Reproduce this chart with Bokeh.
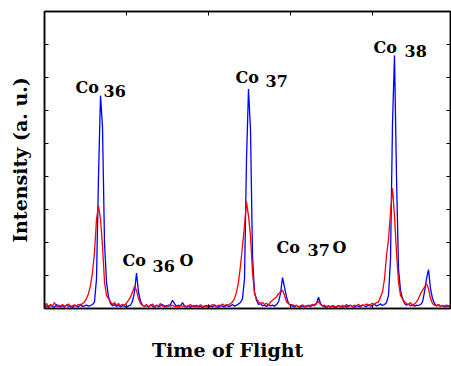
from bokeh.plotting import figure
from bokeh.models import Range1d, LinearAxis, FixedTicker
from bokeh.core.properties import value
from bokeh.embed import file_html
from bokeh.resources import INLINE

# Intensity (a.u.) per time-of-flight channel
blue = [
    0.05, 0.08, 0.03, 0.10, 0.06, 0.04, 0.12, 0.07, 0.05, 0.09,
    0.04, 0.11, 0.06, 0.08, 0.03, 0.10, 0.07, 0.05, 0.13, 0.06,
    0.08, 0.10, 0.07, 0.09, 0.12, 0.20, 0.90, 4.00, 6.45, 5.50,
    2.00, 0.80, 0.35, 0.15, 0.08, 0.12, 0.06, 0.10, 0.05, 0.09,
    0.07, 0.04, 0.08, 0.10, 0.22, 0.50, 1.07, 0.50, 0.22, 0.10,
    0.06, 0.09, 0.05, 0.11, 0.07, 0.04, 0.10, 0.06, 0.08, 0.12,
    0.05, 0.09, 0.07, 0.12, 0.25, 0.15, 0.06, 0.10, 0.08, 0.18,
    0.07, 0.05, 0.09, 0.04, 0.08, 0.06, 0.10, 0.05, 0.07, 0.03,
    0.06, 0.09, 0.04, 0.08, 0.05, 0.11, 0.06, 0.04, 0.09, 0.07,
    0.05, 0.10, 0.06, 0.08, 0.12, 0.07, 0.10, 0.14, 0.18, 0.30,
    0.90, 4.50, 6.65, 5.40, 1.60, 0.50, 0.25, 0.12, 0.15, 0.08,
    0.10, 0.06, 0.12, 0.08, 0.10, 0.07, 0.12, 0.20, 0.45, 0.94,
    0.65, 0.35, 0.15, 0.10, 0.07, 0.05, 0.09, 0.06, 0.04, 0.08,
    0.05, 0.07, 0.10, 0.06, 0.09, 0.12, 0.15, 0.34, 0.15, 0.08,
    0.06, 0.04, 0.08, 0.05, 0.07, 0.03, 0.06, 0.09, 0.05, 0.04,
    0.07, 0.05, 0.08, 0.10, 0.06, 0.04, 0.09, 0.07, 0.05, 0.10,
    0.08, 0.06, 0.11, 0.07, 0.09, 0.12, 0.08, 0.10, 0.14, 0.09,
    0.12, 0.18, 0.40, 1.50, 5.60, 7.67, 4.00, 1.20, 0.55, 0.30,
    0.15, 0.10, 0.13, 0.08, 0.11, 0.07, 0.10, 0.09, 0.12, 0.20,
    0.50, 0.90, 1.18, 0.60, 0.30, 0.15, 0.08, 0.11, 0.06, 0.09,
    0.05, 0.08, 0.06, 0.09,
]
red = [
    0.10, 0.15, 0.06, 0.12, 0.08, 0.18, 0.05, 0.10, 0.07, 0.12,
    0.06, 0.09, 0.14, 0.05, 0.08, 0.11, 0.07, 0.13, 0.09, 0.15,
    0.20, 0.30, 0.45, 0.70, 1.10, 1.70, 2.70, 3.12, 2.70, 1.90,
    0.80, 0.40, 0.30, 0.20, 0.12, 0.18, 0.10, 0.15, 0.08, 0.13,
    0.10, 0.16, 0.25, 0.35, 0.50, 0.67, 0.55, 0.30, 0.15, 0.10,
    0.07, 0.12, 0.05, 0.09, 0.14, 0.06, 0.10, 0.08, 0.15, 0.07,
    0.09, 0.05, 0.11, 0.07, 0.10, 0.06, 0.08, 0.04, 0.09, 0.06,
    0.10, 0.05, 0.08, 0.12, 0.06, 0.09, 0.05, 0.07, 0.11, 0.06,
    0.08, 0.05, 0.10, 0.07, 0.12, 0.08, 0.06, 0.10, 0.09, 0.14,
    0.08, 0.12, 0.10, 0.15, 0.20, 0.30, 0.50, 0.80, 1.30, 1.90,
    2.50, 3.24, 2.80, 2.20, 1.10, 0.45, 0.30, 0.20, 0.15, 0.18,
    0.12, 0.16, 0.10, 0.20, 0.25, 0.30, 0.35, 0.45, 0.50, 0.55,
    0.40, 0.20, 0.15, 0.10, 0.12, 0.07, 0.10, 0.05, 0.08, 0.11,
    0.06, 0.09, 0.07, 0.10, 0.12, 0.08, 0.15, 0.22, 0.12, 0.08,
    0.10, 0.06, 0.08, 0.05, 0.09, 0.07, 0.04, 0.08, 0.06, 0.10,
    0.05, 0.12, 0.07, 0.09, 0.06, 0.10, 0.08, 0.13, 0.07, 0.11,
    0.09, 0.14, 0.10, 0.12, 0.16, 0.13, 0.18, 0.20, 0.35, 0.50,
    0.90, 1.60, 2.10, 2.90, 3.64, 2.80, 1.70, 0.80, 0.40, 0.30,
    0.20, 0.15, 0.12, 0.18, 0.10, 0.14, 0.20, 0.30, 0.45, 0.55,
    0.65, 0.75, 0.60, 0.30, 0.15, 0.10, 0.08, 0.12, 0.06, 0.09,
    0.07, 0.10, 0.08, 0.06,
]
channel = list(range(len(blue)))

x_ticks = [41, 82, 123, 164]
y_ticks = [1, 2, 3, 4, 5, 6, 7, 8]

# peak annotations: text pieces and their anchor (channel, intensity)
ann_text = ["Co", "36", "Co", "37", "Co", "38",
            "Co", "36", "O", "Co", "37", "O"]
ann_x = [15.5, 29.5, 95.5, 110.5, 164.5, 180.0,
         39.0, 54.0, 67.5, 116.0, 131.5, 144.0]
ann_y = [6.70, 6.58, 7.00, 6.88, 7.92, 7.80,
         1.45, 1.30, 1.45, 1.86, 1.76, 1.86]

FONT = "DejaVu Serif"

p = figure(width=451, height=366, output_backend="svg", toolbar_location=None,
           x_range=Range1d(0, 203), y_range=Range1d(0, 9),
           min_border_left=44, min_border_right=1, min_border_top=11,
           min_border_bottom=58, background_fill_color="white",
           border_fill_color="white")
p.grid.visible = False
p.outline_line_color = "black"
p.outline_line_width = 1.5

p.line(channel, blue, line_color="#0000ff", line_width=1.3)
p.line(channel, red, line_color="#ff0000", line_width=1.3)

def style_axis(ax, ticks):
    ax.ticker = FixedTicker(ticks=ticks)
    ax.major_tick_in = 4
    ax.major_tick_out = 0
    ax.minor_tick_in = 0
    ax.minor_tick_out = 0
    ax.major_label_overrides = {t: "" for t in ticks}
    ax.major_label_standoff = 0
    ax.axis_line_color = "black"
    ax.axis_line_width = 1.5
    ax.major_tick_line_width = 1

bottom = p.below[0]
left = p.left[0]
style_axis(bottom, x_ticks)
style_axis(left, y_ticks)
top = LinearAxis()
style_axis(top, x_ticks)
p.add_layout(top, "above")
right = LinearAxis()
style_axis(right, y_ticks)
p.add_layout(right, "right")

for ax in (bottom, left):
    ax.axis_label_text_font = FONT
    ax.axis_label_text_font_style = "bold"
    ax.axis_label_text_font_size = "19px"
    ax.axis_label_text_color = "black"

left.axis_label = "Intensity (a. u.)"
left.axis_label_standoff = 14
# trailing no-break spaces move the centred title left, as in the original
bottom.axis_label = "Time of Flight" + "\u00a0" * 6
bottom.axis_label_standoff = 30

p.text(x=ann_x, y=ann_y, text=ann_text, text_font=value(FONT),
       text_font_style="bold", text_font_size="16px",
       text_align="left", text_baseline="alphabetic", text_color="black")

open("out.html", "w").write(file_html(p, INLINE))
